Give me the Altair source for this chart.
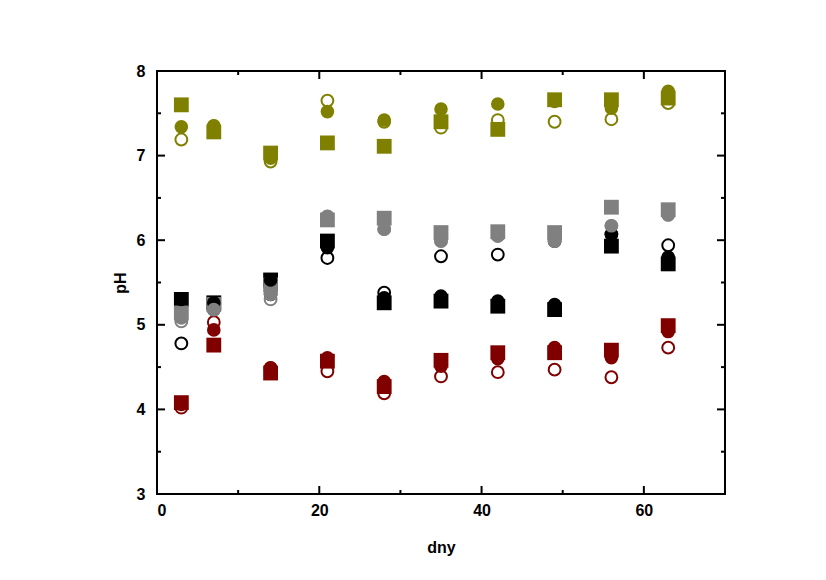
import altair as alt
import pandas as pd

days = [3, 7, 14, 21, 28, 35, 42, 49, 56, 63]

olive_square = [7.60, 7.28, 7.03, 7.15, 7.11, 7.40, 7.31, 7.66, 7.66, 7.68]
olive_filled = [7.34, 7.35, 6.97, 7.52, 7.42, 7.55, 7.61, 7.64, 7.56, 7.76]
olive_open = [7.19, 7.35, 6.93, 7.65, 7.40, 7.33, 7.42, 7.40, 7.43, 7.62]

gray_square = [5.14, 5.24, 5.47, 6.24, 6.26, 6.09, 6.10, 6.09, 6.39, 6.36]
gray_filled = [5.08, 5.18, 5.36, 6.28, 6.13, 5.99, 6.05, 5.99, 6.17, 6.30]
gray_open = [5.04, 5.18, 5.30, 6.28, 6.13, 5.99, 6.05, 5.99, 6.17, 6.30]

black_square = [5.30, 5.26, 5.53, 5.99, 5.26, 5.28, 5.22, 5.18, 5.93, 5.72]
black_filled = [5.30, 5.26, 5.53, 5.91, 5.32, 5.34, 5.28, 5.24, 6.07, 5.80]
black_open = [4.78, 5.18, 5.36, 5.79, 5.38, 5.81, 5.83, 5.99, 6.07, 5.94]

red_square = [4.08, 4.76, 4.43, 4.57, 4.27, 4.58, 4.67, 4.67, 4.70, 4.99]
red_filled = [4.06, 4.94, 4.49, 4.61, 4.33, 4.51, 4.60, 4.73, 4.61, 4.92]
red_open = [4.02, 5.03, 4.49, 4.45, 4.19, 4.39, 4.44, 4.47, 4.38, 4.73]

series = [
    ("black", "#000000", black_square, black_filled, black_open),
    ("gray", "#808080", gray_square, gray_filled, gray_open),
    ("red", "#800000", red_square, red_filled, red_open),
    ("olive", "#808000", olive_square, olive_filled, olive_open),
]

x_major = [0, 20, 40, 60]
x_minor = [10, 30, 50]
y_major = [3, 4, 5, 6, 7, 8]
y_minor = [3.5, 4.5, 5.5, 6.5, 7.5]

rows = []
for name, col, sq, fc, oc in series:
    for d, a, b, c in zip(days, sq, fc, oc):
        rows.append({"day": d, "pH": a, "color": col, "marker": "square"})
        rows.append({"day": d, "pH": b, "color": col, "marker": "filled"})
        rows.append({"day": d, "pH": c, "color": col, "marker": "open"})
df = pd.DataFrame(rows)

W, H = 568, 423
FONT = "Liberation Sans"

xscale = alt.Scale(domain=[0, 70], nice=False, zero=False)
yscale = alt.Scale(domain=[3, 8], nice=False, zero=False)

xaxis = alt.Axis(values=x_major, title="dny", ticks=False, domain=False, grid=False, format="d",
                 labelFont=FONT, labelFontSize=16, labelFontWeight="bold", labelColor="black",
                 labelPadding=8, titleFont=FONT, titleFontSize=16, titleFontWeight="bold",
                 titleColor="black", titlePadding=21)
yaxis = alt.Axis(values=y_major, title="pH", ticks=False, domain=False, grid=False, format="d",
                 labelFont=FONT, labelFontSize=16, labelFontWeight="bold", labelColor="black",
                 labelPadding=12, titleFont=FONT, titleFontSize=16, titleFontWeight="bold",
                 titleColor="black", titlePadding=8)

base = alt.Chart(df)

open_layer = base.transform_filter(alt.datum.marker == "open").mark_point(
    shape="circle", filled=False, strokeWidth=2, size=140, opacity=1
).encode(
    x=alt.X("day:Q", scale=xscale, axis=xaxis),
    y=alt.Y("pH:Q", scale=yscale, axis=yaxis),
    color=alt.Color("color:N", scale=None),
)

square_layer = base.transform_filter(alt.datum.marker == "square").mark_point(
    shape="square", filled=True, size=220, opacity=1
).encode(
    x=alt.X("day:Q", scale=xscale),
    y=alt.Y("pH:Q", scale=yscale),
    color=alt.Color("color:N", scale=None),
)

filled_layer = base.transform_filter(alt.datum.marker == "filled").mark_point(
    shape="circle", filled=True, size=185, opacity=1
).encode(
    x=alt.X("day:Q", scale=xscale),
    y=alt.Y("pH:Q", scale=yscale),
    color=alt.Color("color:N", scale=None),
)

xt_major = pd.DataFrame({"v": x_major[1:]})
xt_minor = pd.DataFrame({"v": x_minor})
yt_major = pd.DataFrame({"v": y_major[1:-1]})
yt_minor = pd.DataFrame({"v": y_minor})


def xticks(data, length):
    b = alt.Chart(data).mark_rule(color="black", strokeWidth=2)
    bottom = b.encode(x=alt.X("v:Q", scale=xscale), y=alt.value(H), y2=alt.value(H - length))
    top = b.encode(x=alt.X("v:Q", scale=xscale), y=alt.value(0), y2=alt.value(length))
    return [bottom, top]


def yticks(data, length):
    b = alt.Chart(data).mark_rule(color="black", strokeWidth=2)
    left = b.encode(y=alt.Y("v:Q", scale=yscale), x=alt.value(0), x2=alt.value(length))
    right = b.encode(y=alt.Y("v:Q", scale=yscale), x=alt.value(W), x2=alt.value(W - length))
    return [left, right]


tick_layers = xticks(xt_major, 8) + xticks(xt_minor, 4) + yticks(yt_major, 8) + yticks(yt_minor, 4)

chart = alt.layer(
    open_layer, square_layer, filled_layer, *tick_layers
).properties(
    width=W, height=H,
    autosize=alt.AutoSizeParams(type="none"),
    padding={"left": 149, "top": 63, "right": 93, "bottom": 70},
    background="white",
).configure_view(
    stroke="black", strokeWidth=2
)

chart.save("out.html", embed_options={"renderer": "svg", "actions": False})
